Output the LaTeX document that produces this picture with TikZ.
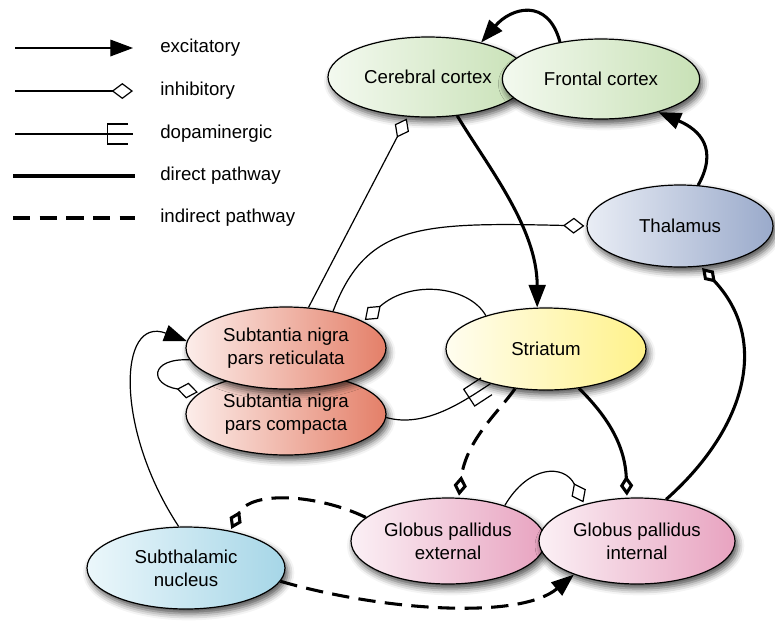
\documentclass[tikz,border=0pt]{standalone}
\usepackage{fontspec}
\setmainfont{Liberation Sans}
\usetikzlibrary{shapes.geometric,arrows.meta,decorations.markings,shadows.blur}
\definecolor{gL}{HTML}{F3F9EF}\definecolor{gR}{HTML}{C8E1B6}
\definecolor{tL}{HTML}{E9EDF5}\definecolor{tR}{HTML}{9AAACB}
\definecolor{yL}{HTML}{FFFDF0}\definecolor{yR}{HTML}{FFF28A}
\definecolor{sL}{HTML}{FCEDEA}\definecolor{sR}{HTML}{E47F68}
\definecolor{pL}{HTML}{FBF0F5}\definecolor{pR}{HTML}{E8A3C0}
\definecolor{bL}{HTML}{EBF7FB}\definecolor{bR}{HTML}{A6D6E7}
\begin{document}
\begin{tikzpicture}[x=0.75pt,y=-0.75pt,
  region/.style={ellipse, draw=black, line width=0.9pt, inner sep=0pt, align=center,
    font=\fontsize{14}{17.25}\selectfont,
    blur shadow={shadow xshift=2pt, shadow yshift=-3.5pt, shadow blur radius=5pt, shadow opacity=70}},
  gfill/.style={left color=gL, right color=gR},
  tfill/.style={left color=tL, right color=tR},
  yfill/.style={left color=yL, right color=yR},
  sfill/.style={left color=sL, right color=sR},
  pfill/.style={left color=pL, right color=pR},
  bfill/.style={left color=bL, right color=bR},
  lab/.style={anchor=west, inner sep=0pt, font=\fontsize{14}{17}\selectfont},
  thinln/.style={line width=0.9pt},
  thickln/.style={line width=2.3pt},
  dashln/.style={line width=2.3pt, dash pattern=on 13pt off 7pt},
  exc/.style={-{Triangle[length=17pt,width=12.5pt]}},
  inh/.style={-{Diamond[length=16pt,width=12pt,fill=white]}, shorten >=1.5pt},
  inhthick/.style={-{Diamond[length=15pt,width=10pt,fill=white]}, shorten >=1.5pt},
  dopa/.style={postaction={decorate,decoration={markings,mark=at position 0.999 with
    {\draw[line width=0.9pt,solid] (-3.5pt,7.5pt) -- (-19pt,7.5pt) -- (-19pt,-7.5pt) -- (-3.5pt,-7.5pt);}}}}
]
\useasboundingbox (0,0) rectangle (775,626);

% regions
\node[region,gfill,minimum width=150pt,minimum height=60pt] (cc) at (428,77) {Cerebral cortex};
\node[region,gfill,minimum width=148pt,minimum height=60pt] (fc) at (601,79) {Frontal cortex};
\node[region,tfill,minimum width=139.5pt,minimum height=61.5pt] (th) at (680,226) {Thalamus};
\node[region,yfill,minimum width=150pt,minimum height=61.5pt] (str) at (546,349) {Striatum};
\node[region,sfill,minimum width=150pt,minimum height=61.5pt] (snc) at (286,414) {Subtantia nigra\\pars compacta};
\node[region,sfill,minimum width=150pt,minimum height=61.5pt] (snr) at (286,348) {Subtantia nigra\\pars reticulata};
\node[region,pfill,minimum width=145.5pt,minimum height=64.5pt] (gpe) at (448,541) {Globus pallidus\\external};
\node[region,pfill,minimum width=147pt,minimum height=64.5pt] (gpi) at (637,541) {Globus pallidus\\internal};
\node[region,bfill,minimum width=148.5pt,minimum height=61.5pt] (stn) at (186,568) {Subthalamic\\nucleus};

% connectors
\draw[thickln,exc] (fc.138) .. controls +(-12,-45) and +(30,-35) .. (cc.33);
\draw[thickln,exc] (cc.-53) .. controls +(30,50) and +(0,-80) .. (str.102);
\draw[thickln,exc] (th.66) .. controls +(20,-36) and +(42,18) .. (fc.-30);
\draw[thinln,inh] (snr.61) -- (cc.-117);
\draw[thinln,inh] (snr.38) .. controls +(33,-87) and +(-167,-4) .. (th.180);
\draw[thinln,inh] (str.151) .. controls +(-17,-30) and +(47,-42) .. (snr.19);
\draw[thinln,inh] (snr.187) .. controls +(-40,-2) and +(-51,-8) .. (snc.166);
\draw[thinln,exc] (stn.100) .. controls +(-64,-97) and +(-69,-26) .. (snr.176);
\draw[thinln,dopa] (snc.-2) .. controls +(39,11) and +(-26,17) .. (str.-148);
\draw[dashln,inhthick] (str.-128) .. controls +(-15,22) and +(7,-58) .. (gpe.76);
\draw[thickln,inhthick] (str.-50) .. controls +(22,22) and +(-2,-58) .. (gpi.103);
\draw[thickln,inhthick] (gpi.55) .. controls +(79,-70) and +(70,74) .. (th.-63);
\draw[thinln,inh] (gpe.32) .. controls +(24,-41) and +(-20,-40) .. (gpi.145);
\draw[dashln,inhthick] (gpe.164) .. controls +(-47,-23) and +(20,-41) .. (stn.40);
\draw[dashln,exc] (stn.-8) .. controls +(100,29) and +(-55,46) .. (gpi.208);

% legend
\coordinate (e1) at (15,48);  \coordinate (e2) at (133,48);
\coordinate (i1) at (15,91);  \coordinate (i2) at (133,91);
\coordinate (d1) at (15,134); \coordinate (d2) at (133,134);
\coordinate (p1) at (13,176); \coordinate (p2) at (135,176);
\coordinate (q1) at (13,218); \coordinate (q2) at (135,218);
\draw[thinln,exc] (e1) -- (e2);
\draw[thinln,-{Diamond[length=16pt,width=12pt,fill=white]}] (i1) -- (i2);
\draw[thinln,dopa] (d1) -- (d2);
\draw[thickln] (p1) -- (p2);
\draw[dashln] (q1) -- (q2);
\node[lab] (le) at (160,48) {excitatory};
\node[lab] (li) at (160,91) {inhibitory};
\node[lab] (ld) at (160,134) {dopaminergic};
\node[lab] (lp) at (160,176) {direct pathway};
\node[lab] (lq) at (160,218) {indirect pathway};
\end{tikzpicture}
\end{document}
